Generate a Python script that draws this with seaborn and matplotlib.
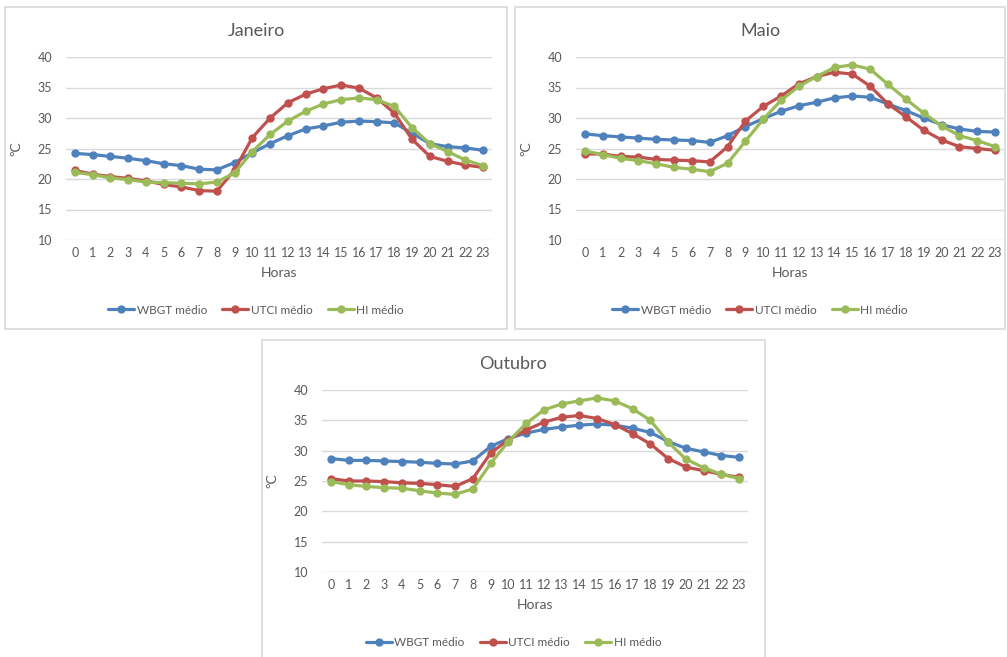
import matplotlib
matplotlib.use("Agg")
import matplotlib.pyplot as plt
from matplotlib.patches import Rectangle
from matplotlib.lines import Line2D
import pandas as pd
import seaborn as sns

# data
horas = list(range(24))
series = ["WBGT médio", "UTCI médio", "HI médio"]
cores = ["#4F81BD", "#C0504D", "#9BBB59"]

jan_wbgt = [24.2, 24.0, 23.7, 23.4, 23.0, 22.5, 22.2, 21.6, 21.5, 22.7, 24.3, 25.8,
            27.1, 28.2, 28.7, 29.3, 29.5, 29.4, 29.2, 27.5, 25.8, 25.3, 25.1, 24.7]
jan_utci = [21.4, 20.8, 20.4, 20.1, 19.7, 19.1, 18.7, 18.1, 18.0, 21.5, 26.8, 30.0,
            32.5, 33.9, 34.8, 35.4, 34.9, 33.3, 30.8, 26.5, 23.7, 22.9, 22.3, 21.9]
jan_hi = [21.1, 20.7, 20.2, 19.9, 19.5, 19.4, 19.3, 19.2, 19.5, 21.0, 24.5, 27.3,
          29.5, 31.1, 32.3, 33.0, 33.3, 33.0, 31.9, 28.4, 25.8, 24.5, 23.1, 22.2]

mai_wbgt = [27.4, 27.1, 26.9, 26.7, 26.5, 26.4, 26.3, 26.0, 27.1, 28.6, 29.9, 31.1,
            32.0, 32.6, 33.3, 33.6, 33.4, 32.3, 31.2, 30.0, 28.9, 28.2, 27.8, 27.7]
mai_utci = [24.1, 24.1, 23.7, 23.6, 23.2, 23.1, 23.0, 22.8, 25.3, 29.5, 31.9, 33.6,
            35.6, 36.8, 37.5, 37.2, 35.2, 32.3, 30.2, 28.0, 26.4, 25.3, 25.0, 24.7]
mai_hi = [24.6, 24.0, 23.4, 23.0, 22.5, 21.9, 21.6, 21.2, 22.6, 26.2, 29.8, 32.9,
          35.2, 36.8, 38.3, 38.7, 38.0, 35.5, 33.1, 30.8, 28.7, 27.1, 26.3, 25.3]

out_wbgt = [28.7, 28.4, 28.4, 28.3, 28.2, 28.1, 27.9, 27.8, 28.3, 30.7, 32.0, 32.9,
            33.5, 33.9, 34.2, 34.4, 34.2, 33.7, 33.0, 31.5, 30.4, 29.8, 29.2, 28.9]
out_utci = [25.4, 25.0, 25.0, 24.9, 24.7, 24.6, 24.4, 24.1, 25.4, 29.6, 31.8, 33.4,
            34.7, 35.5, 35.8, 35.3, 34.3, 32.8, 31.1, 28.7, 27.3, 26.7, 26.1, 25.6]
out_hi = [24.9, 24.4, 24.1, 23.9, 23.8, 23.4, 23.0, 22.8, 23.7, 27.9, 31.5, 34.5,
          36.7, 37.7, 38.2, 38.7, 38.2, 36.9, 35.0, 31.4, 28.6, 27.2, 26.1, 25.4]

meses = {
    "Janeiro": [jan_wbgt, jan_utci, jan_hi],
    "Maio": [mai_wbgt, mai_utci, mai_hi],
    "Outubro": [out_wbgt, out_utci, out_hi],
}

W, H = 1007, 657
# panel box (x0, y0, x1, y1) and plot area (x0, y0, x1, y1) in pixels, top-left origin
layout = {
    "Janeiro": ((5, 7, 507, 329), (66, 57, 492, 240)),
    "Maio": ((515, 7, 1005, 329), (576, 57, 1004, 240)),
    "Outubro": ((262, 340, 765, 660), (322, 390, 748, 572)),
}

sns.set_theme(style="white")
plt.rcParams["font.family"] = ["Lato", "DejaVu Sans"]
texto = "#595959"

fig = plt.figure(figsize=(W / 100, H / 100), dpi=100)


def fx(x):
    return x / W


def fy(y):
    return 1 - y / H


for mes, valores in meses.items():
    box, area = layout[mes]
    fig.patches.append(Rectangle((fx(box[0]), fy(box[3])), fx(box[2] - box[0]), (box[3] - box[1]) / H,
                                 transform=fig.transFigure, fill=False, edgecolor="#D9D9D9", lw=1.2))

    ax = fig.add_axes([fx(area[0]), fy(area[3]), fx(area[2] - area[0]), (area[3] - area[1]) / H])
    df = pd.DataFrame({
        "Horas": horas * 3,
        "valor": valores[0] + valores[1] + valores[2],
        "serie": [s for s in series for _ in horas],
    })
    sns.lineplot(data=df, x="Horas", y="valor", hue="serie", palette=cores, marker="o",
                 markersize=6, markeredgewidth=0, linewidth=2.3, legend=False, ax=ax)
    ax.set_xlim(-0.5, 23.5)
    ax.set_ylim(10, 40)
    ax.set_xticks(horas)
    ax.set_yticks(range(10, 41, 5))
    ax.tick_params(axis="both", length=0, labelsize=9, colors=texto)
    ax.tick_params(axis="y", pad=10)
    ax.tick_params(axis="x", pad=5)
    ax.grid(axis="y", color="#D9D9D9", lw=1)
    ax.set_axisbelow(True)
    for sp in ax.spines.values():
        sp.set_visible(False)
    ax.set_xlabel("Horas", fontsize=10, color=texto, labelpad=6)
    ax.set_ylabel("ºC", fontsize=10, color=texto, labelpad=11)

    cx = (box[0] + box[2]) / 2
    fig.text(fx(cx), fy(box[1] + 24), mes, ha="center", va="center", fontsize=13, color=texto)

    handles = [Line2D([], [], color=c, marker="o", markersize=6, markeredgewidth=0, lw=2.3)
               for c in cores]
    fig.legend(handles, series, loc="center", bbox_to_anchor=(fx(cx), fy(box[1] + 303)),
               ncol=3, frameon=False, fontsize=8.5, labelcolor=texto, handlelength=2.2,
               handletextpad=0.2, columnspacing=1.3)

fig.savefig("out.png", dpi=100, facecolor="white")
